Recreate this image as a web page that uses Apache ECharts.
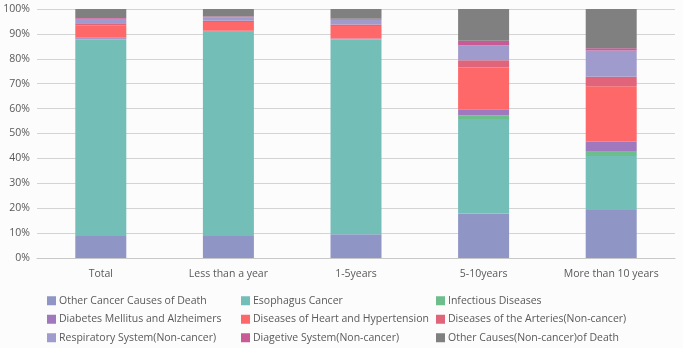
<!DOCTYPE html>
<html><head><meta charset="utf-8">
<script src="https://cdn.jsdelivr.net/npm/echarts@6/dist/echarts.min.js"></script>
<style>html,body{margin:0;padding:0;background:#fcfcfc;}#c{width:683px;height:348px;}</style>
</head><body><div id="c"></div>
<script>
var categories = ['Total', 'Less than a year', '1-5years', '5-10years', 'More than 10 years'];
var yTicks = ['0%','10%','20%','30%','40%','50%','60%','70%','80%','90%','100%'];
var otherCancer   = [8.8, 8.8, 9.5, 17.9, 19.3];
var esophagus     = [79.0, 82.0, 78.3, 37.9, 21.7];
var infectious    = [0.3, 0.2, 0.2, 1.4, 1.7];
var diabetes      = [0.4, 0.3, 0.2, 2.5, 4.0];
var heart         = [5.0, 3.5, 5.0, 16.8, 22.3];
var arteries      = [0.8, 0.5, 0.6, 2.9, 3.8];
var respiratory   = [1.8, 1.4, 1.9, 6.0, 10.5];
var diagetive     = [0.3, 0.3, 0.4, 1.8, 0.9];
var otherCauses   = [3.6, 3.0, 3.9, 12.8, 15.8];

var seriesDefs = [
  ['Other Cancer Causes of Death', otherCancer, '#8f96c6'],
  ['Esophagus Cancer', esophagus, '#74beb8'],
  ['Infectious Diseases', infectious, '#6cbe8c'],
  ['Diabetes Mellitus and Alzheimers', diabetes, '#a078be'],
  ['Diseases of Heart and Hypertension', heart, '#ff6868'],
  ['Diseases of the Arteries(Non-cancer)', arteries, '#e0647a'],
  ['Respiratory System(Non-cancer)', respiratory, '#a09bcd'],
  ['Diagetive System(Non-cancer)', diagetive, '#c85a96'],
  ['Other Causes(Non-cancer)of Death', otherCauses, '#808080']
];
var FONT = 'Open Sans';
var TC = '#595959';
var series = seriesDefs.map(function(d){
  return {name:d[0], type:'bar', stack:'all', data:d[1], barWidth:51,
    itemStyle:{color:d[2]}};
});
function legendCol(names, left){
  return {orient:'vertical', left:left, top:294, height:60, width:220, padding:0,
    itemWidth:9, itemHeight:9, itemGap:5,
    icon:'rect', data:names, textStyle:{fontFamily:FONT, fontSize:10.5, color:TC, lineHeight:13.5, padding:[0,0,0,-2]}};
}
var chart = echarts.init(document.getElementById('c'));
chart.setOption({
  backgroundColor:'#fcfcfc',
  animation:false,
  grid:{left:37, right:8, top:9, bottom:90, containLabel:false},
  legend:[
    legendCol([seriesDefs[0][0], seriesDefs[3][0], seriesDefs[6][0]], 47),
    legendCol([seriesDefs[1][0], seriesDefs[4][0], seriesDefs[7][0]], 241),
    legendCol([seriesDefs[2][0], seriesDefs[5][0], seriesDefs[8][0]], 436)
  ],
  xAxis:{type:'category', data:categories,
    axisLine:{lineStyle:{color:'#c8c8c8'}}, axisTick:{show:false},
    axisLabel:{fontFamily:FONT, fontSize:10.5, color:TC, margin:11, interval:0}},
  yAxis:{type:'value', min:0, max:100, interval:10,
    axisLabel:{fontFamily:FONT, fontSize:10.5, color:TC, margin:7, formatter:function(v){return yTicks[Math.round(v/10)];}},
    splitLine:{lineStyle:{color:'#d4d4d4'}}, axisLine:{show:false}, axisTick:{show:false}},
  series:series
});
</script></body></html>
